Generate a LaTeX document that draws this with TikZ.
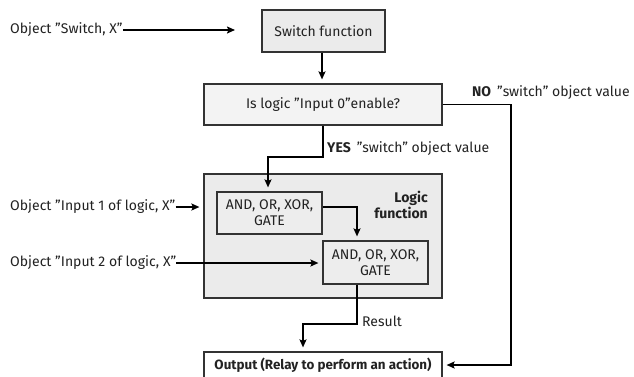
\documentclass[tikz,border=0pt]{standalone}
\usepackage{fontspec}
\setmainfont{Fira Sans}
\usetikzlibrary{arrows.meta,calc}
\definecolor{boxA}{HTML}{EBEBEB}
\definecolor{boxB}{HTML}{F3F3F3}
\definecolor{boxC}{HTML}{EDEDED}
\definecolor{edge}{HTML}{333333}
\definecolor{ink}{HTML}{222222}
\tikzset{
  box/.style={draw=edge, line width=1.2pt, rectangle, inner sep=0pt, align=center, text=ink},
  lbl/.style={inner sep=0pt, text=ink, anchor=west},
  arr/.style={line width=1.6pt, -{Stealth[length=8pt,width=7pt,inset=1.5pt]}, shorten >=4pt},
}
\begin{document}
\begin{tikzpicture}[x=1pt,y=-1pt,font=\fontsize{14}{16}\selectfont]
\useasboundingbox[fill=white] (0,0) rectangle (634,376);
% boxes
\node[box, fill=boxA, minimum width=123pt, minimum height=42pt] (sw) at (323.5,31) {Switch function};
\node[box, fill=boxB, minimum width=238pt, minimum height=41pt] (isl) at (323,104.5) {Is logic ”Input 0”enable?};
\node[box, fill=boxA, minimum width=238pt, minimum height=124pt] (logic) at (323,236) {};
\node[box, fill=boxC, minimum width=105pt, minimum height=42pt] (and1) at (269.5,213) {AND, OR, XOR,\\GATE};
\node[box, fill=boxC, minimum width=105pt, minimum height=43pt] (and2) at (375.5,262.5) {AND, OR, XOR,\\GATE};
\node[box, fill=white, minimum width=238pt, minimum height=26pt, font=\fontsize{13.4}{16}\selectfont\bfseries] (out) at (323,365) {Output (Relay to perform an action)};
% labels
\node[lbl, anchor=east, align=right, font=\fontsize{14}{16}\selectfont\bfseries] (lf) at (428,205) {Logic\\function};
\node[lbl] (sx) at (10,30) {Object ”Switch, X”};
\node[lbl] (in1) at (10,207) {Object ”Input 1 of logic, X”};
\node[lbl] (in2) at (10,263) {Object ”Input 2 of logic, X”};
\node[lbl] (yes) at (327,149) {\textbf{YES}\, ”switch” object value};
\node[lbl] (no) at (472,93) {\textbf{NO}\, ”switch” object value};
\node[lbl] (res) at (362,321) {Result};
% connectors
\coordinate (sxend) at (239,30);
\draw[arr] (sx.east) -- (sxend);
\draw[arr] (sw.south -| 322,0) -- (isl.north -| 322,0);
\coordinate (yb) at (323,157);
\draw[arr] (isl.south) -- (yb) -| ([xshift=-1.5pt]and1.north);
\coordinate (nb) at (511,104.5);
\draw[arr] (isl.east) -- (nb) |- (out.east);
\draw[arr] (in1.east) -- (in1.east -| logic.west);
\draw[arr] (in2.east) -- (in2.east -| and2.west);
\draw[arr] ([yshift=6pt]and1.east) -| ([xshift=-18.5pt]and2.north);
\coordinate (r1) at (357,324);
\coordinate (r2) at (303,324);
\draw[arr] ([xshift=-18.5pt]and2.south) -- (r1) -- (r2) -- (r2 |- out.north);
\end{tikzpicture}
\end{document}
